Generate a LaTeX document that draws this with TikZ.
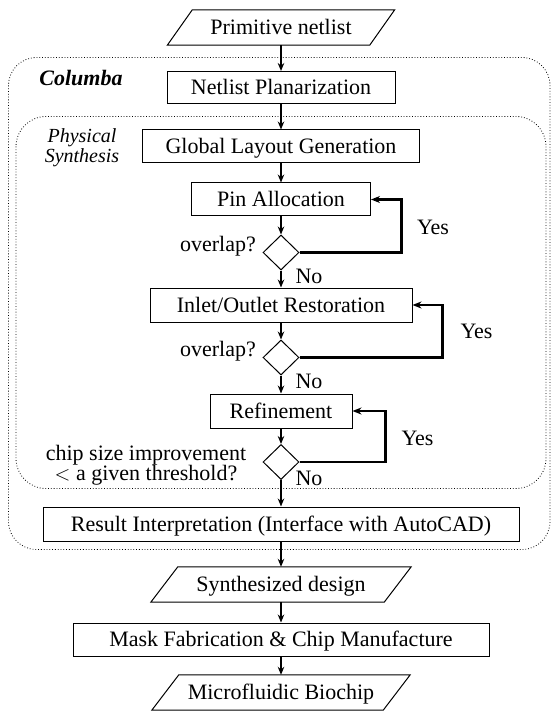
\documentclass[tikz,border=0pt]{standalone}
\usepackage{fontspec}
\setmainfont{Liberation Serif}
\usetikzlibrary{shapes.geometric,arrows.meta,calc}
\begin{document}
\begin{tikzpicture}[x=1pt,y=-1pt,
  font=\rmfamily\fontsize{22}{22}\selectfont,
  procbox/.style={draw, line width=1pt, minimum height=33pt, inner sep=0pt, text height=15.5pt, text depth=1pt},
  iobox/.style={minimum height=35pt, inner sep=0pt, text height=15.5pt, text depth=1pt},
  iopath/.style={line width=1pt},
  decision/.style={draw, diamond, line width=1pt, minimum width=36pt, minimum height=35pt, inner sep=0pt},
  flow/.style={line width=1.6pt, -{Stealth[length=8pt,width=6.5pt]}},
  loopback/.style={line width=2.4pt, -{Stealth[length=9pt,width=7pt]}},
  region/.style={dotted, line width=0.8pt},
  lbl/.style={inner sep=0pt, text height=15.5pt, text depth=1pt},
]
\useasboundingbox (0,0) rectangle (552,711);

% dotted regions
\draw[region, rounded corners=28pt] (8.5,57.5) rectangle (550,549.5);
\draw[region, rounded corners=30pt] (16,116.5) rectangle (546,488.5);

% region titles
\node[lbl, font=\rmfamily\fontsize{22}{22}\selectfont\bfseries\itshape] (columba) at (81,78) {Columba};
\node[align=center, inner sep=0pt, font=\rmfamily\fontsize{20}{20}\selectfont\itshape] (phys) at (82,148) {Physical\\Synthesis};

% input
\node[iobox, minimum width=202pt] (prim) at (281,27.5) {Primitive netlist};
\draw[iopath] ([xshift=-12.5pt]prim.south west) -- ([xshift=12.5pt]prim.north west) -- ([xshift=12.5pt]prim.north east) -- ([xshift=-12.5pt]prim.south east) -- cycle;

% process boxes
\node[procbox, minimum width=228pt, minimum height=32pt] (plan) at (281,87.5) {Netlist Planarization};
\node[procbox, minimum width=277pt] (glob) at (281,146.5) {Global Layout Generation};
\node[procbox, minimum width=179pt] (pin) at (281,199.5) {Pin Allocation};
\node[decision] (d1) at (281,252.5) {};
\node[procbox, minimum width=262pt, minimum height=34pt] (inlet) at (281,305) {Inlet/Outlet Restoration};
\node[decision] (d2) at (281,357.5) {};
\node[procbox, minimum width=142pt, minimum height=34pt] (refine) at (281,411) {Refinement};
\node[decision] (d3) at (281,462) {};
\node[procbox, minimum width=476pt, minimum height=34pt] (result) at (281,524) {Result Interpretation (Interface with AutoCAD)};

% outputs
\node[iobox, minimum width=233pt] (synth) at (281,584.5) {Synthesized design};
\draw[iopath] ([xshift=-13.5pt]synth.south west) -- ([xshift=13.5pt]synth.north west) -- ([xshift=13.5pt]synth.north east) -- ([xshift=-13.5pt]synth.south east) -- cycle;
\node[procbox, minimum width=416pt] (mask) at (281,639.5) {Mask Fabrication \& Chip Manufacture};
\node[iobox, minimum width=231pt] (micro) at (281,692.5) {Microfluidic Biochip};
\draw[iopath] ([xshift=-13.5pt]micro.south west) -- ([xshift=13.5pt]micro.north west) -- ([xshift=13.5pt]micro.north east) -- ([xshift=-13.5pt]micro.south east) -- cycle;

% labels
\node[lbl, anchor=east] (ov1) at (256,244) {overlap?};
\node[lbl, anchor=east] (ov2) at (256,349) {overlap?};
\node[align=center, inner sep=0pt, font=\rmfamily\fontsize{22}{20}\selectfont] (chip) at (146,465) {chip size improvement\\$<$ a given threshold?};
\node[lbl] (no1) at (309,276.5) {No};
\node[lbl] (no2) at (309,381.5) {No};
\node[lbl] (no3) at (309,478.5) {No};
\node[lbl] (yes1) at (433,227) {Yes};
\node[lbl] (yes2) at (476.5,331.5) {Yes};
\node[lbl] (yes3) at (417.5,438.7) {Yes};

% main flow
\draw[flow] (prim.south) -- (plan.north);
\draw[flow] (plan.south) -- (glob.north);
\draw[flow] (glob.south) -- (pin.north);
\draw[flow] (pin.south) -- (d1.north);
\draw[flow] (d1.south) -- (inlet.north);
\draw[flow] (inlet.south) -- (d2.north);
\draw[flow] (d2.south) -- (refine.north);
\draw[flow] (refine.south) -- (d3.north);
\draw[flow] (d3.south) -- (result.north);
\draw[flow] (result.south) -- (synth.north);
\draw[flow] (synth.south) -- (mask.north);
\draw[flow] (mask.south) -- (micro.north);

% loops
\draw[loopback] (d1.east) -- ++(102,0) |- (pin.east);
\draw[loopback] (d2.east) -- ++(143,0) |- (inlet.east);
\draw[loopback] (d3.east) -- ++(86,0) |- (refine.east);
\end{tikzpicture}
\end{document}
